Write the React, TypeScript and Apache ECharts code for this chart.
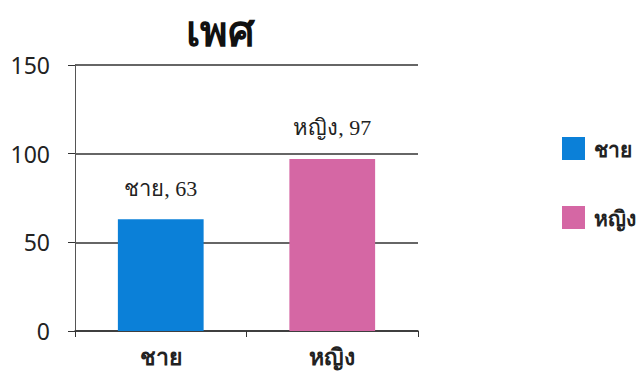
import React, { useEffect, useRef } from "react";
import * as echarts from "echarts";

const categories = ["ชาย", "หญิง"];
const seriesNames = ["ชาย", "หญิง"];
const maleValues: (number | string)[] = [63, "-"];
const femaleValues: (number | string)[] = ["-", 97];
const colors = ["#0b80d8", "#d567a4"];
const yTicks = { min: 0, max: 150, interval: 50 };

export default function App() {
  const ref = useRef<HTMLDivElement>(null);
  useEffect(() => {
    if (!ref.current) return;
    const chart = echarts.init(ref.current, null, { renderer: "svg" });
    const thai = "'Noto Sans', 'DejaVu Sans', sans-serif";
    const labelCfg = {
      show: true,
      position: "top",
      distance: 20,
      formatter: "{a}, {c}",
      fontFamily: "'Liberation Serif', 'DejaVu Serif', serif",
      fontSize: 22,
      color: "#222",
    };
    chart.setOption({
      animation: false,
      title: {
        text: "เพศ",
        left: 220,
        textAlign: "center",
        top: 8,
        padding: 0,
        textStyle: { fontSize: 42, lineHeight: 42, fontWeight: "bold", color: "#111", fontFamily: thai },
      },
      legend: {
        orient: "vertical",
        left: 557,
        top: 132,
        itemWidth: 23,
        itemHeight: 23,
        itemGap: 46,
        icon: "rect",
        textStyle: { fontSize: 21, fontWeight: "bold", color: "#222", fontFamily: thai, padding: [0, 0, 0, 4] },
        data: seriesNames,
      },
      grid: { left: 75, right: 223, top: 65, bottom: 54 },
      xAxis: {
        type: "category",
        data: categories,
        axisLine: { show: true, lineStyle: { color: "#333", width: 1.5 } },
        axisTick: { show: true, length: 6, lineStyle: { color: "#333" } },
        axisLabel: { fontSize: 23, fontWeight: "bold", color: "#222", margin: 13, fontFamily: thai },
      },
      yAxis: {
        type: "value",
        min: yTicks.min,
        max: yTicks.max,
        interval: yTicks.interval,
        axisLine: { show: true, lineStyle: { color: "#555", width: 1 } },
        axisTick: { show: true, length: 7, lineStyle: { color: "#333" } },
        axisLabel: { fontSize: 23, color: "#222", margin: 25, fontFamily: thai },
        splitLine: { show: true, lineStyle: { color: "#333", width: 1.5 } },
      },
      series: [
        {
          name: seriesNames[0],
          type: "bar",
          stack: "s",
          barWidth: "50%",
          data: maleValues,
          itemStyle: { color: colors[0] },
          label: labelCfg,
        },
        {
          name: seriesNames[1],
          type: "bar",
          stack: "s",
          barWidth: "50%",
          data: femaleValues,
          itemStyle: { color: colors[1] },
          label: labelCfg,
        },
      ],
    });
    return () => chart.dispose();
  }, []);
  return <div ref={ref} style={{ width: 641, height: 385, position: "absolute", left: 0, top: 0 }} />;
}
